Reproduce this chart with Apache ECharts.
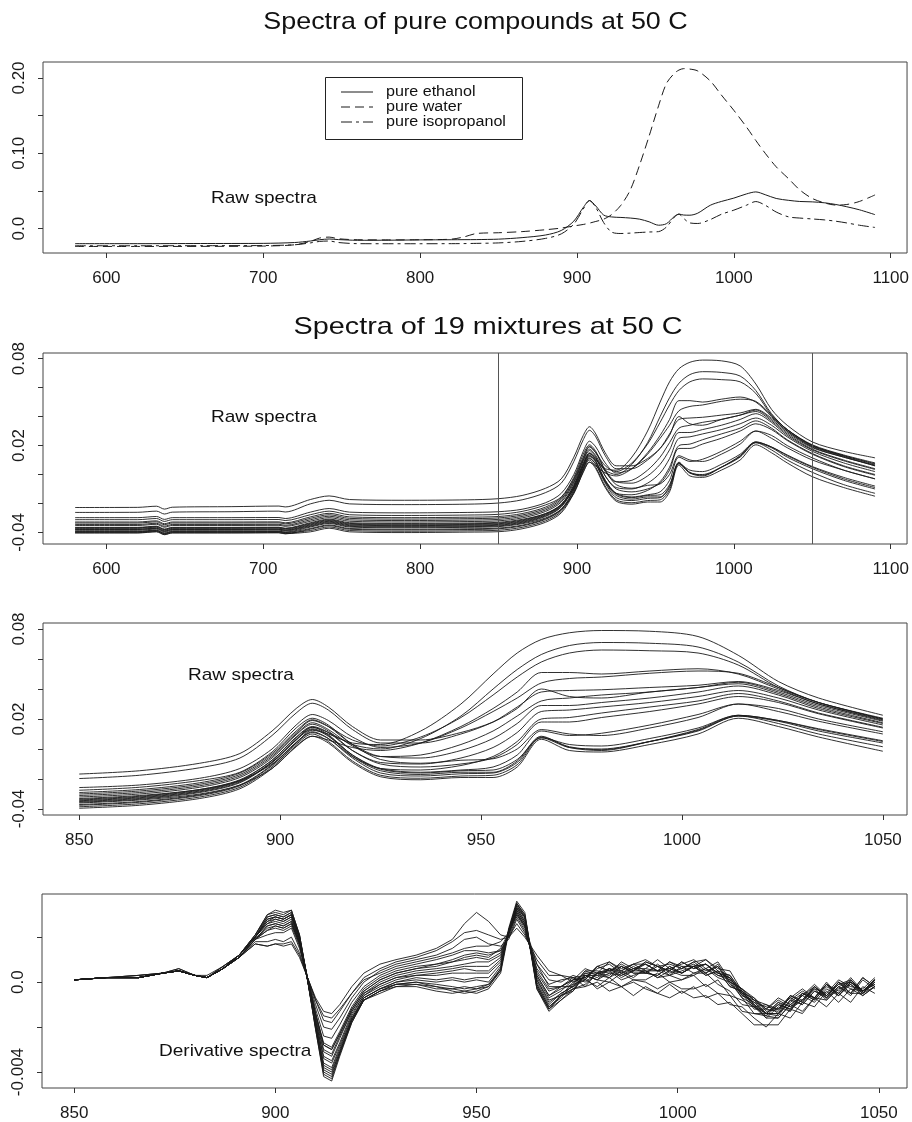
<!DOCTYPE html>
<html><head><meta charset="utf-8">
<script src="https://cdn.jsdelivr.net/npm/echarts@6/dist/echarts.min.js"></script>
<style>html,body{margin:0;padding:0;background:#fff}#c{width:912px;height:1122px}</style>
</head><body><div id="c"></div>
<script>
// ---------- Panel 1: pure compounds ----------
const pureWl = [580,620,660,700,720,730,736,742,748,760,780,800,820,828,836,850,865,880,890,898,904,908,912,917,922,928,934,940,946,952,957,962,965,968,972,977,985,992,1000,1008,1014,1020,1027,1035,1042,1050,1058,1065,1072,1080,1090];
const pureEthanol = [-.0200,-.0200,-.0198,-.0196,-.0185,-.0165,-.0148,-.0138,-.0146,-.0155,-.0154,-.0150,-.0148,-.0147,-.0146,-.0140,-.0120,-.0085,-.0025,.0100,.0280,.0372,.0300,.0180,.0155,.0148,.0140,.0125,.0090,.0045,.0065,.0160,.0192,.0180,.0178,.0205,.0310,.0360,.0405,.0460,.0487,.0450,.0400,.0375,.0360,.0355,.0342,.0320,.0290,.0250,.0185];
const pureWater = [-.0237,-.0237,-.0236,-.0232,-.0215,-.0170,-.0125,-.0113,-.0135,-.0148,-.0150,-.0148,-.0140,-.0110,-.0065,-.0055,-.0040,-.0015,.0007,.0035,.0055,.0073,.0095,.0125,.0185,.0310,.0514,.0850,.1230,.1630,.1926,.2060,.2105,.2124,.2118,.2093,.1960,.1775,.1570,.1350,.1170,.1000,.0820,.0660,.0514,.0400,.0340,.0312,.0320,.0360,.0447];
const pureIsopropanol = [-.0228,-.0228,-.0227,-.0225,-.0215,-.0190,-.0170,-.0165,-.0185,-.0200,-.0201,-.0201,-.0200,-.0199,-.0196,-.0190,-.0170,-.0130,-.0070,.0060,.0260,.0372,.0280,.0080,-.0045,-.0065,-.0060,-.0052,-.0045,-.0040,.0020,.0150,.0192,.0135,.0075,.0068,.0120,.0190,.0245,.0310,.0359,.0310,.0220,.0155,.0140,.0128,.0115,.0098,.0075,.0045,.0015];
const pureNames = ['pure ethanol','pure water','pure isopropanol'];

// ---------- Panels 2 & 3: 19 mixtures (raw spectra) ----------
const mixWl = [580,620,632,637,642,680,710,714,730,742,755,790,830,850,865,880,890,898,904,908,912,918,925,935,945,953,959,965,972,980,992,1004,1014,1024,1034,1050,1070,1090];
const mixA = [-.0365,-.0365,-.0357,-.0377,-.0365,-.0365,-.0364,-.0371,-.0333,-.0308,-.0333,-.0338,-.0335, -.033,-.031,-.027,-.021,-.010,.004,.0125,.010,.004,.003,.012,.030,.050,.064,.073,.0775,.079,.0785,.075,.0625,.045,.034,.0225,.016,.0115];
const mixB = [-.0378,-.0378,-.0370,-.0390,-.0378,-.0378,-.0377,-.0384,-.0348,-.0323,-.0348,-.0353,-.0350, -.0345,-.0325,-.028,-.0215,-.009,.006,.0145,.011,.003,0,.007,.022,.040,.053,.063,.069,.071,.0705,.068,.058,.042,.031,.020,.013,.0075];
const mixC = [-.0335,-.0335,-.0327,-.0347,-.0335,-.0335,-.0334,-.0341,-.0303,-.0278,-.0303,-.0308,-.0305, -.030,-.028,-.0235,-.017,-.004,.011,.019,.015,.006,.002,.008,.021,.036,.048,.058,.064,.066,.0655,.064,.056,.041,.031,.0205,.0135,.008];
const mixD = [-.0392,-.0392,-.0384,-.0404,-.0392,-.0392,-.0391,-.0398,-.0363,-.0338,-.0363,-.0368,-.0365, -.036,-.034,-.030,-.024,-.013,.002,.0085,.006,.001,-.001,.004,.015,.027,.038,.051,.051,.050,.052,.0535,.050,.040,.030,.019,.012,.0065];
const mixE = [-.0298,-.0298,-.0290,-.0310,-.0298,-.0298,-.0297,-.0304,-.0260,-.0235,-.0260,-.0265,-.0262, -.0257,-.024,-.0195,-.013,0,.016,.023,.019,.008,.001,.004,.014,.025,.034,.044,.047,.048,.0505,.052,.0505,.041,.031,.020,.013,.007];
const mixF = [-.0228,-.0227,-.0219,-.0239,-.0226,-.0222,-.0218,-.0224,-.0173,-.0148,-.0173,-.0178,-.0175, -.0167,-.0145,-.0095,-.003,.012,.027,.033,.028,.015,.006,.006,.011,.018,.027,.040,.035,.034,.038,.041,.0445,.038,.029,.0185,.012,.006];
const mixG = [-.0262,-.0261,-.0253,-.0273,-.0260,-.0257,-.0253,-.0259,-.0203,-.0178,-.0203,-.0208,-.0205, -.0197,-.0175,-.0125,-.006,.009,.024,.0305,.026,.013,.004,.004,.010,.018,.028,.038,.039,.0395,.041,.0425,.045,.039,.030,.0195,.0125,.006];
const mixH = [-.0345,-.0345,-.0337,-.0357,-.0345,-.0345,-.0344,-.0351,-.0313,-.0288,-.0313,-.0318,-.0315, -.031,-.029,-.0245,-.018,-.005,.010,.0175,.013,.002,-.005,-.004,.003,.012,.022,.032,.034,.036,.038,.041,.0435,.037,.028,.0175,.010,.004];
const mixI = [-.0328,-.0328,-.0320,-.0340,-.0328,-.0328,-.0327,-.0334,-.0293,-.0268,-.0293,-.0298,-.0295, -.029,-.027,-.0225,-.016,-.003,.012,.0195,.015,.003,-.005,-.006,-.001,.007,.017,.029,.029,.031,.034,.038,.042,.036,.027,.017,.0095,.0035];
const mixJ = [-.0368,-.0368,-.0360,-.0380,-.0368,-.0368,-.0367,-.0374,-.0338,-.0313,-.0338,-.0343,-.0340, -.0335,-.0315,-.027,-.0205,-.0075,.008,.015,.011,-.001,-.009,-.010,-.006,.001,.011,.025,.026,.028,.031,.035,.039,.034,.026,.016,.008,.002];
const mixK = [-.0404,-.0404,-.0396,-.0416,-.0404,-.0404,-.0403,-.0410,-.0378,-.0353,-.0378,-.0383,-.0380, -.0375,-.0355,-.031,-.0245,-.011,.004,.011,.007,-.005,-.013,-.014,-.011,-.005,.005,.020,.021,.024,.028,.032,.037,.032,.024,.0145,.006,0];
const mixL = [-.0352,-.0352,-.0344,-.0364,-.0352,-.0352,-.0351,-.0358,-.0323,-.0298,-.0323,-.0328,-.0325, -.032,-.030,-.0255,-.019,-.006,.0095,.0165,.012,-.001,-.010,-.012,-.010,-.006,.003,.018,.018,.021,.025,.030,.035,.031,.0235,.014,.0055,-.0005];
const mixM = [-.0385,-.0385,-.0377,-.0397,-.0385,-.0385,-.0384,-.0391,-.0358,-.0333,-.0358,-.0363,-.0360, -.0355,-.0335,-.029,-.0225,-.009,.006,.013,.0085,-.004,-.013,-.0155,-.014,-.012,-.004,.012,.009,.0105,.016,.023,.030,.027,.020,.0115,.003,-.003];
const mixN = [-.0312,-.0312,-.0304,-.0324,-.0312,-.0312,-.0311,-.0318,-.0278,-.0253,-.0278,-.0283,-.0280, -.0275,-.0255,-.021,-.0155,-.002,.014,.0205,.016,.003,-.007,-.0095,-.0075,-.0065,0,.013,.010,.009,.014,.021,.030,.025,.0185,.010,.003,-.003];
const mixO = [-.0372,-.0372,-.0364,-.0384,-.0372,-.0372,-.0371,-.0378,-.0343,-.0318,-.0343,-.0348,-.0345, -.034,-.032,-.0275,-.021,-.0075,.0075,.0145,.0095,-.004,-.0135,-.016,-.0145,-.014,-.007,.0075,.003,.002,.007,.014,.0225,.019,.013,.005,-.003,-.009];
const mixP = [-.0398,-.0398,-.0390,-.0410,-.0398,-.0398,-.0397,-.0404,-.0387,-.0362,-.0387,-.0392,-.0389, -.0385,-.0365,-.032,-.0255,-.012,.003,.010,.005,-.008,-.0175,-.0195,-.018,-.0175,-.0105,.0075,.001,0,.005,.012,.022,.017,.010,.0015,-.007,-.013];
const mixQ = [-.0380,-.0380,-.0372,-.0392,-.0380,-.0380,-.0379,-.0386,-.0353,-.0328,-.0353,-.0358,-.0355, -.035,-.033,-.0285,-.022,-.0085,.0065,.0135,.009,-.005,-.0145,-.017,-.0155,-.0155,-.008,.0085,.001,-.001,.005,.013,.0225,.019,.0135,.0055,-.002,-.008];
const mixR = [-.0402,-.0402,-.0394,-.0414,-.0402,-.0402,-.0401,-.0408,-.0396,-.0371,-.0396,-.0401,-.0398, -.0395,-.0375,-.033,-.0265,-.013,.0015,.0085,.004,-.009,-.0185,-.0205,-.019,-.019,-.012,.0065,-.001,-.002,.003,.010,.0205,.015,.008,-.0015,-.009,-.015];
const mixS = [-.0395,-.0395,-.0387,-.0407,-.0395,-.0395,-.0394,-.0401,-.0373,-.0348,-.0373,-.0378,-.0375, -.037,-.035,-.0305,-.024,-.0105,.0045,.0115,.007,-.006,-.016,-.018,-.0165,-.016,-.009,.008,.0015,-.0005,.005,.0125,.022,.0185,.012,.004,-.004,-.010];
const mixtures = [mixA,mixB,mixC,mixD,mixE,mixF,mixG,mixH,mixI,mixJ,mixK,mixL,mixM,mixN,mixO,mixP,mixQ,mixR,mixS];
const cutLines = [850, 1050];

// ---------- Panel 4: derivative spectra ----------
const derivWl = [850,858,866,872,876,880,883,887,891,895,898,900,902,904,906,908,910,912,914,916,919,922,926,930,935,940,944,947,950,953,956,958,960,962,965,968,971,974,977,980,983,986,989,992,995,998,1001,1004,1007,1010,1013,1016,1019,1022,1025,1028,1031,1034,1037,1040,1043,1046,1049];
const derA = [.0001,.0002,.0002,.0004,.0005,.0003,.0002,.0006,.0011,.0017,.0016,.0017,.0017,.0018,.0012,.0002,-.0007,-.0013,-.0014,-.001,-.0002,.0004,.0008,.001,.0012,.0015,.0019,.0026,.0031,.0027,.0021,.002,.0024,.002,.0012,.0005,.0003,.0002,-.0002,0,-.0004,-.0002,-.0006,-.0002,-.0005,-.0007,-.0004,-.0007,-.0006,-.001,-.0009,-.0014,-.0019,-.0019,-.0019,-.0012,-.0014,-.0007,-.0011,-.0005,-.0009,-.0002,-.0005];
const derB = [.0001,.0002,.0003,.0004,.0005,.0003,.0002,.0006,.0011,.0018,.0018,.0019,.0018,.002,.0013,.0002,-.0008,-.0017,-.0018,-.0013,-.0005,.0002,.0006,.0009,.0011,.0014,.0018,.0022,.0023,.0021,.0019,.002,.0026,.0021,.001,.0003,.0003,0,.0002,-.0003,0,-.0002,0,-.0003,-.0005,-.0001,-.0005,-.0002,-.0007,-.0005,-.001,-.0011,-.0016,-.002,-.0014,-.0016,-.0009,-.0011,-.0004,-.0009,-.0003,-.0006,-.0002];
const derC = [.0001,.0002,.0002,.0004,.0005,.0003,.0002,.0006,.0011,.0019,.0021,.0022,.0022,.0024,.0015,.0002,-.001,-.002,-.0021,-.0016,-.0007,0,.0005,.0008,.001,.0012,.0015,.0019,.002,.0017,.0016,.0019,.0028,.0022,.0008,.0001,0,.0003,.0001,-.0002,.0002,-.0002,.0001,0,-.0003,0,-.0003,-.0003,-.0001,-.0005,-.0006,-.0013,-.0014,-.0015,-.0016,-.001,-.0013,-.0007,-.0008,-.0002,-.0005,-.0005,0];
const derD = [.0001,.0002,.0002,.0004,.0006,.0003,.0002,.0006,.0011,.0017,.0016,.0017,.0016,.0017,.0011,.0002,-.0008,-.0015,-.0016,-.0012,-.0005,.0001,.0004,.0007,.0009,.0011,.0013,.0015,.0016,.0016,.0018,.0022,.003,.0025,.0008,-.0002,-.0002,-.0002,.0003,.0001,0,.0004,.0001,.0001,.0004,0,.0001,.0003,-.0002,.0001,-.0006,-.0008,-.0011,-.0016,-.0016,-.001,-.0006,-.0009,-.0003,-.0006,-.0001,-.0006,-.0002];
const derE = [.0001,.0002,.0002,.0004,.0005,.0003,.0002,.0006,.0012,.0019,.0023,.0025,.0024,.0026,.0017,.0002,-.0012,-.0024,-.0025,-.0019,-.0009,-.0002,.0003,.0006,.0008,.001,.0012,.0014,.0014,.0013,.0014,.002,.0029,.0023,.0006,-.0001,.0001,.0002,0,.0004,.0005,.0001,.0003,.0005,.0002,.0003,.0001,.0004,.0004,-.0001,-.0004,-.001,-.0011,-.0014,-.001,-.0012,-.0008,-.0003,-.0008,-.0003,-.0001,-.0005,0];
const derF = [.0001,.0002,.0003,.0004,.0006,.0003,.0003,.0007,.0012,.002,.0027,.0029,.0028,.003,.0019,.0002,-.0014,-.0028,-.003,-.0023,-.0012,-.0004,.0001,.0004,.0006,.0007,.0009,.0011,.0012,.0011,.0015,.0022,.0032,.0026,.0003,-.0006,-.0003,-.0001,.0005,.0003,.0006,.0004,.0007,.0004,.0003,.0007,.0004,.0007,.0003,.0005,-.0002,-.0004,-.0011,-.0015,-.001,-.0012,-.0005,-.0007,-.0001,-.0006,0,-.0004,0];
const derG = [.0001,.0002,.0002,.0004,.0005,.0003,.0002,.0007,.0012,.002,.0026,.0028,.0027,.0029,.0018,.0002,-.0014,-.0027,-.0029,-.0022,-.0011,-.0003,.0002,.0005,.0007,.0008,.001,.0012,.0013,.0012,.0014,.0021,.0031,.0025,.0005,-.0003,-.0002,.0002,.0003,.0001,.0006,.0002,.0005,.0005,.0002,.0005,.0003,.0003,.0006,.0003,.0002,-.0006,-.0009,-.0011,-.0012,-.0007,-.001,-.0004,-.0006,0,-.0003,-.0004,.0001];
const derH = [.0001,.0002,.0002,.0004,.0005,.0003,.0002,.0006,.0011,.0019,.0023,.0024,.0023,.0025,.0016,.0001,-.0014,-.0028,-.003,-.0023,-.0012,-.0004,.0001,.0004,.0006,.0008,.0009,.001,.0011,.001,.0013,.0021,.003,.0024,.0004,-.0004,-.0002,.0001,.0006,.0004,.0003,.0007,.0004,.0004,.0007,.0003,.0005,.0007,.0004,.0008,0,-.0003,-.0007,-.0013,-.0012,-.0007,-.0003,-.0007,-.0001,-.0005,.0001,-.0004,-.0001];
const derI = [.0001,.0002,.0002,.0004,.0005,.0003,.0002,.0006,.0012,.0019,.0025,.0026,.0025,.0027,.0017,.0001,-.0015,-.003,-.0032,-.0024,-.0013,-.0005,0,.0003,.0005,.0006,.0007,.0008,.0009,.0009,.0012,.0022,.0031,.0025,.0003,-.0006,-.0002,.0001,.0002,.0006,.0008,.0004,.0006,.0008,.0005,.0006,.0004,.0007,.0008,.0004,.0002,-.0006,-.0008,-.0012,-.0007,-.001,-.0006,-.0002,-.0006,-.0001,0,-.0004,.0001];
const derJ = [.0001,.0002,.0002,.0004,.0005,.0003,.0002,.0006,.0011,.0019,.0024,.0025,.0024,.0026,.0017,.0001,-.0016,-.0031,-.0033,-.0025,-.0013,-.0005,-.0001,.0002,.0004,.0005,.0006,.0007,.0007,.0007,.0011,.0022,.0032,.0026,.0002,-.0007,-.0004,.0001,.0002,.0007,.0005,.0007,.0005,.0009,.0007,.0005,.0009,.0006,.0008,.0004,.0002,-.0005,-.0012,-.0012,-.0013,-.0006,-.0008,-.0002,-.0006,0,-.0005,.0002,-.0002];
const derK = [.0001,.0002,.0002,.0004,.0005,.0003,.0002,.0006,.0012,.002,.0026,.0027,.0026,.0028,.0018,.0001,-.0017,-.0033,-.0035,-.0027,-.0014,-.0006,-.0001,.0002,.0003,.0004,.0005,.0006,.0005,.0005,.001,.0023,.0033,.0027,.0001,-.0008,-.0006,0,.0004,.0004,.0009,.0005,.0008,.0008,.0005,.0009,.0007,.0007,.001,.0006,.0005,-.0004,-.0008,-.001,-.0012,-.0006,-.0009,-.0003,-.0005,.0001,-.0002,-.0003,.0002];
const derL = [.0001,.0002,.0002,.0004,.0005,.0003,.0002,.0006,.0011,.0019,.0025,.0026,.0025,.0027,.0018,.0001,-.0017,-.0034,-.0036,-.0028,-.0015,-.0006,-.0002,.0001,.0003,.0003,.0004,.0004,.0004,.0004,.0009,.0022,.0033,.0027,.0001,-.0009,-.0005,-.0002,.0005,.0005,.0004,.0009,.0006,.0006,.001,.0006,.0008,.001,.0006,.0009,.0001,-.0003,-.0008,-.0014,-.0014,-.0008,-.0004,-.0007,-.0001,-.0004,.0002,-.0004,-.0001];
const derM = [.0001,.0002,.0002,.0004,.0005,.0003,.0002,.0006,.0012,.002,.0027,.0028,.0027,.0029,.0019,.0001,-.0018,-.0036,-.0038,-.0029,-.0016,-.0007,-.0003,0,.0002,.0001,.0002,.0001,.0002,.0002,.0008,.0022,.0034,.0028,0,-.001,-.0005,-.0002,.0001,.0007,.0009,.0006,.0008,.001,.0007,.0008,.0006,.0009,.001,.0005,.0003,-.0005,-.0007,-.0012,-.0008,-.0011,-.0006,-.0001,-.0006,-.0001,.0001,-.0004,.0001];
const derN = [.0001,.0002,.0003,.0004,.0005,.0003,.0002,.0007,.0012,.002,.0028,.0029,.0028,.003,.002,.0001,-.0019,-.0037,-.0039,-.003,-.0016,-.0007,-.0003,0,.0001,0,.0001,0,.0001,0,.0007,.0023,.0035,.0029,-.0001,-.0011,-.0007,-.0001,.0001,.0007,.0005,.0008,.0005,.0009,.0007,.0005,.0009,.0006,.0008,.0004,.0003,-.0004,-.0011,-.001,-.0014,-.0006,-.0009,-.0002,-.0007,0,-.0005,.0002,-.0002];
const derO = [.0001,.0002,.0002,.0004,.0005,.0003,.0002,.0006,.0012,.002,.0029,.003,.0029,.0031,.002,.0001,-.002,-.0039,-.0041,-.0031,-.0017,-.0008,-.0004,-.0001,0,-.0001,-.0002,-.0003,-.0002,-.0001,.0006,.0023,.0035,.003,-.0002,-.0012,-.0006,-.0004,.0004,.0002,.0006,.0005,.0008,.0005,.0005,.0009,.0006,.0009,.0005,.0007,0,-.0003,-.001,-.0014,-.0009,-.0013,-.0005,-.0007,0,-.0006,0,-.0004,.0001];
const derP = [.0001,.0002,.0002,.0004,.0005,.0003,.0002,.0006,.0012,.0021,.003,.0031,.003,.0032,.0021,.0001,-.0021,-.0042,-.0044,-.0033,-.0018,-.0008,-.0004,-.0002,-.0001,-.0002,-.0004,-.0005,-.0004,-.0002,.0005,.0024,.0036,.0031,-.0003,-.0013,-.0008,-.0004,.0003,.0003,.0002,.0007,.0004,.0004,.0008,.0004,.0006,.0008,.0004,.0007,-.0001,-.0005,-.0009,-.0014,-.0014,-.0009,-.0005,-.0008,-.0002,-.0005,.0001,-.0005,-.0002];
const derQ = [.0001,.0002,.0002,.0004,.0005,.0003,.0002,.0006,.0012,.002,.0028,.0029,.0028,.003,.002,.0001,-.002,-.004,-.0042,-.0032,-.0017,-.0008,-.0004,-.0001,-.0001,-.0003,-.0003,-.0004,-.0003,-.0002,.0006,.0023,.0034,.0029,-.0002,-.0012,-.0006,-.0003,-.0002,.0004,.0006,.0003,.0005,.0008,.0005,.0006,.0004,.0007,.0008,.0003,.0001,-.0007,-.001,-.0014,-.0009,-.0011,-.0008,-.0002,-.0007,-.0002,0,-.0005,.0001];
const derR = [.0001,.0002,.0002,.0004,.0005,.0003,.0002,.0006,.0012,.0021,.0029,.003,.0029,.0031,.0021,.0001,-.0021,-.0041,-.0043,-.0032,-.0018,-.0008,-.0005,-.0002,-.0002,-.0004,-.0005,-.0004,-.0005,-.0003,.0004,.0022,.0033,.0029,-.0003,-.0012,-.0008,-.0003,-.0001,.0004,.0002,.0005,.0002,.0006,.0005,.0003,.0007,.0004,.0006,.0002,0,-.0007,-.0014,-.0014,-.0015,-.0008,-.001,-.0004,-.0007,-.0002,-.0006,.0001,-.0003];
const derS = [.0001,.0002,.0002,.0004,.0005,.0003,.0002,.0006,.0012,.0021,.003,.0032,.0031,.0032,.0021,.0001,-.0019,-.0038,-.004,-.0031,-.0017,-.0007,-.0003,-.0001,0,-.0002,-.0003,-.0002,-.0003,-.0001,.0005,.0023,.0035,.003,-.0001,-.0011,-.0006,-.0003,.0003,.0001,.0004,.0003,.0006,.0004,.0003,.0007,.0004,.0007,.0003,.0005,-.0002,-.0004,-.001,-.0016,-.0011,-.0013,-.0005,-.0008,-.0001,-.0006,0,-.0004,.0001];
const derivatives = [derA,derB,derC,derD,derE,derF,derG,derH,derI,derJ,derK,derL,derM,derN,derO,derP,derQ,derR,derS];

// ---------- ticks & texts ----------
const xTicksWide = [600,700,800,900,1000,1100];
const xTicksNarrow = [850,900,950,1000,1050];
const y1Ticks = [0,0.05,0.1,0.15,0.2];
const y1Labels = [0,0.1,0.2];
const y1Texts = ['0.0','0.10','0.20'];
const y2Ticks = [-0.04,-0.02,0,0.02,0.04,0.06,0.08];
const y2Labels = [-0.04,0.02,0.08];
const y2Texts = ['-0.04','0.02','0.08'];
const y4Ticks = [-0.004,-0.002,0,0.002];
const y4Labels = [-0.004,0];
const y4Texts = ['-0.004','0.0'];
const titles = ['Spectra of pure compounds at 50 C','Spectra of 19 mixtures at 50 C'];
const panelNotes = ['Raw spectra','Raw spectra','Raw spectra','Derivative spectra'];

// ---------- build ----------
const FONT = 'Liberation Sans, Arial, Helvetica, sans-serif';
const INK = '#1a1a1a';
function pairs(xs, ys, lo, hi) {
  const out = [];
  for (let i = 0; i < xs.length; i++) if (xs[i] >= lo && xs[i] <= hi) out.push([xs[i], ys[i]]);
  return out;
}
function xAxisCfg(gi, min, max, ticks) {
  return {type:'value', gridIndex:gi, min:min, max:max, position:'bottom',
    axisLine:{show:false, onZero:false}, splitLine:{show:false},
    axisTick:{show:true, length:5, customValues:ticks, lineStyle:{color:'#333', width:1}},
    axisLabel:{show:true, customValues:ticks, margin:17, color:INK, fontSize:17, fontFamily:FONT,
      formatter:function(v){return String(Math.round(v));}}};
}
function yAxisCfg(gi, min, max, ticks, labVals, labTexts) {
  return {type:'value', gridIndex:gi, min:min, max:max, position:'left',
    axisLine:{show:false, onZero:false}, splitLine:{show:false},
    axisTick:{show:true, length:5, customValues:ticks, lineStyle:{color:'#333', width:1}},
    axisLabel:{show:true, customValues:labVals, rotate:90, margin:15, color:INK, fontSize:17, fontFamily:FONT,
      formatter:function(v){ const i = labVals.findIndex(t => Math.abs(t - v) < 1e-9); return i >= 0 ? labTexts[i] : ''; }}};
}
const gridBase = {show:true, borderColor:'#444', borderWidth:1, containLabel:false, backgroundColor:'transparent'};
const grids = [
  Object.assign({left:43, top:62, width:865, height:191}, gridBase),
  Object.assign({left:43, top:353, width:865, height:191}, gridBase),
  Object.assign({left:43, top:623, width:864, height:192}, gridBase),
  Object.assign({left:42, top:894, width:865, height:194}, gridBase)
];
const xAxes = [
  xAxisCfg(0, 559.6, 1110.4, xTicksWide),
  xAxisCfg(1, 559.6, 1110.4, xTicksWide),
  xAxisCfg(2, 841, 1056, xTicksNarrow),
  xAxisCfg(3, 842, 1057, xTicksNarrow)
];
const yAxes = [
  yAxisCfg(0, -0.0324, 0.2212, y1Ticks, y1Labels, y1Texts),
  yAxisCfg(1, -0.048, 0.0839, y2Ticks, y2Labels, y2Texts),
  yAxisCfg(2, -0.044, 0.084, y2Ticks, y2Labels, y2Texts),
  yAxisCfg(3, -0.00471, 0.00392, y4Ticks, y4Labels, y4Texts)
];
const series = [];
const pureData = [pureEthanol, pureWater, pureIsopropanol];
const pureDash = ['solid', [9,5], [11,4,3,4]];
pureData.forEach((ys, k) => series.push({type:'line', name:pureNames[k], xAxisIndex:0, yAxisIndex:0,
  data:pairs(pureWl, ys, 0, 2000), symbol:'none', smooth:0.3, silent:true,
  lineStyle:{color:INK, width:1, type:pureDash[k]}}));
mixtures.forEach((ys, k) => {
  const s = {type:'line', xAxisIndex:1, yAxisIndex:1, data:pairs(mixWl, ys, 0, 2000), symbol:'none', smooth:0.3, silent:true,
    lineStyle:{color:INK, width:0.9}};
  if (k === 0) s.markLine = {silent:true, symbol:['none','none'], label:{show:false}, animation:false,
    lineStyle:{color:'#555', type:'solid', width:1}, data:cutLines.map(v => ({xAxis:v}))};
  series.push(s);
});
mixtures.forEach(ys => series.push({type:'line', xAxisIndex:2, yAxisIndex:2, data:pairs(mixWl, ys, 850, 1050),
  symbol:'none', smooth:0.3, silent:true, lineStyle:{color:INK, width:0.9}}));
derivatives.forEach(ys => series.push({type:'line', xAxisIndex:3, yAxisIndex:3, data:pairs(derivWl, ys, 0, 2000),
  symbol:'none', smooth:false, silent:true, lineStyle:{color:INK, width:0.9}}));

function txt(s, x, y, size, sx, align) {
  return {type:'text', x:x, y:y, scaleX:sx, silent:true, z:100,
    style:{text:s, fontSize:size, fontFamily:FONT, fill:'#111', align:align, verticalAlign:'middle', textAlign:align, textVerticalAlign:'middle'}};
}
const graphics = [
  txt(titles[0], 475.5, 22, 24, 1.12, 'center'),
  txt(titles[1], 488, 327, 24, 1.2, 'center'),
  txt(panelNotes[0], 211, 198, 17, 1.12, 'left'),
  txt(panelNotes[1], 211, 417, 17, 1.12, 'left'),
  txt(panelNotes[2], 188, 675, 17, 1.12, 'left'),
  txt(panelNotes[3], 159, 1051, 17, 1.12, 'left'),
  {type:'rect', silent:true, z:90, shape:{x:325.5, y:77.5, width:197, height:62}, style:{fill:'#fff', stroke:'#222', lineWidth:1}}
];
const legendY = [92, 107, 122];
pureNames.forEach((n, k) => {
  graphics.push({type:'line', silent:true, z:100, shape:{x1:341, y1:legendY[k], x2:373, y2:legendY[k]},
    style:{stroke:INK, lineWidth:1, lineDash: k === 0 ? null : pureDash[k]}});
  graphics.push(txt(n, 386, legendY[k], 14, 1.15, 'left'));
});

const chart = echarts.init(document.getElementById('c'), null, {renderer:'canvas'});
chart.setOption({
  animation:false,
  backgroundColor:'#fff',
  grid:grids, xAxis:xAxes, yAxis:yAxes, series:series, graphic:graphics
});
</script>
</body></html>
